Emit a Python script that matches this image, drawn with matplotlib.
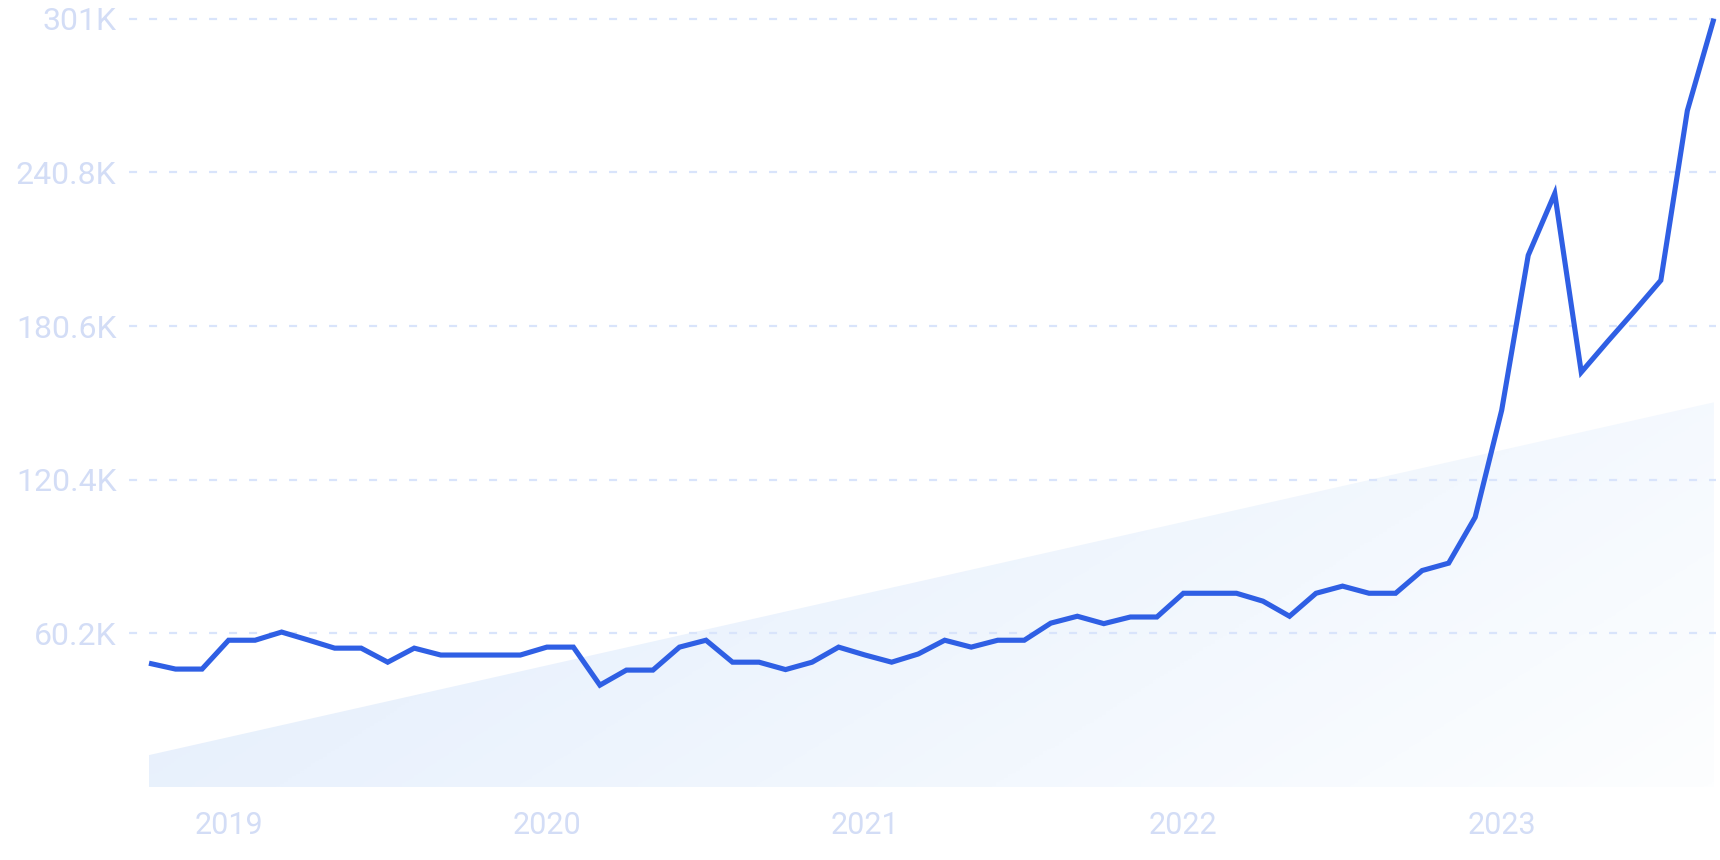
import matplotlib
matplotlib.use("Agg")
import matplotlib.pyplot as plt
import numpy as np
from matplotlib.colors import LinearSegmentedColormap

plt.rcParams['lines.scale_dashes'] = False
plt.rcParams['font.family'] = ['Roboto', 'DejaVu Sans']

# ---- data ----
months = [f"{y}-{m:02d}" for y, m in
          [(2018, 10), (2018, 11), (2018, 12)] +
          [(y, m) for y in range(2019, 2023) for m in range(1, 13)] +
          [(2023, m) for m in range(1, 10)]]

values_k = [48.5, 46.2, 46.2, 57.5, 57.5, 60.7, 57.6, 54.4, 54.4, 48.9,
            54.4, 51.7, 51.7, 51.7, 51.7, 54.8, 54.8, 39.9, 45.8, 45.8,
            54.8, 57.5, 48.9, 48.9, 46.0, 48.9, 54.8, 51.7, 48.9, 52.1,
            57.5, 54.8, 57.5, 57.5, 64.2, 66.9, 64.0, 66.6, 66.6, 75.9,
            75.9, 75.9, 72.8, 66.9, 75.9, 78.7, 75.9, 75.9, 84.8, 87.7,
            105.7, 147.6, 208.3, 232.5, 162.5, 174.6, 186.4, 198.5, 265.0, 301.0]

trend_k = [12.5, 150.7]  # trend at first and last month

y_ticks_k = [60.2, 120.4, 180.6, 240.8, 301.0]
y_tick_labels = ["60.2K", "120.4K", "180.6K", "240.8K", "301K"]

# ---- figure ----
W, H = 1720, 860
fig = plt.figure(figsize=(W / 100, H / 100), dpi=100)
ax = fig.add_axes([129 / W, (H - 787) / H, (1716 - 129) / W, (787 - 18.7) / H])

x = np.arange(len(months))
vals = np.array(values_k) * 1000
n = len(months)

ax.set_xlim(-0.754, n - 1 + 0.08)
ax.set_ylim(0, 301000)

# trend area with diagonal gradient
tx = np.array([0, n - 1])
ty = np.array(trend_k) * 1000
poly = ax.fill_between(tx, 0, ty, facecolor='none', edgecolor='none', zorder=1)
gx = np.linspace(0, 1, 400)
gy = np.linspace(0, 1, 200)
GX, GY = np.meshgrid(gx, gy)
T = np.clip(0.726 * GX + 0.274 * (1 - GY), 0, 1)
cmap = LinearSegmentedColormap.from_list(
    "g", ["#e2edfb", "#eaf2fd", "#f3f8fe", "#fdfeff"])
im = ax.imshow(T, cmap=cmap, extent=[0, n - 1, 0, ty.max()], origin='lower',
               aspect='auto', zorder=1, vmin=0, vmax=1, interpolation='bilinear')
im.set_clip_path(poly.get_paths()[0], transform=ax.transData)

# grid lines
ax.set_yticks(np.array(y_ticks_k) * 1000)
ax.set_yticklabels(y_tick_labels)
for yt in y_ticks_k:
    ax.axhline(yt * 1000, color='#d9e4fb', lw=1.6, ls=(0, (5.8, 8.6)), zorder=2,
               clip_on=False)

# main line
ax.plot(x, vals, color='#2f5fe4', lw=3.7, solid_joinstyle='miter',
        solid_capstyle='butt', zorder=3, clip_on=False)

# x ticks at January
jan_idx = [i for i, m in enumerate(months) if m.endswith('-01')]
ax.set_xticks(jan_idx)
ax.set_xticklabels([months[i][:4] for i in jan_idx])

for s in ax.spines.values():
    s.set_visible(False)
ax.tick_params(axis='both', length=0, labelcolor='#d3ddf6')
ax.tick_params(axis='y', pad=9, labelsize=23)
ax.tick_params(axis='x', pad=17, labelsize=22)
ax.patch.set_alpha(0)

fig.savefig("out.png", dpi=100, facecolor='white')
